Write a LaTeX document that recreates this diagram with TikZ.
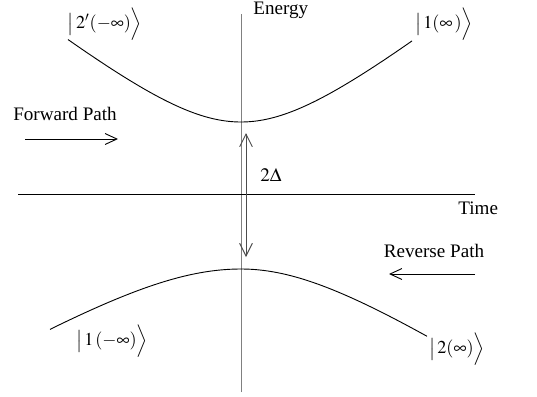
\documentclass[tikz,border=0pt]{standalone}
\usepackage{amsmath,amssymb}
\usepackage{mathptmx}
\usepackage{fontspec}
\setmainfont{Liberation Serif}
\usetikzlibrary{positioning, arrows.meta, calc}

\tikzset{
  axis/.style={line width=0.45pt},
  curve/.style={line width=0.5pt, smooth},
  pathlabel/.style={font=\fontsize{10.5}{12}\selectfont, inner sep=0pt},
  ket/.style={font=\fontsize{10}{12}\selectfont, inner sep=0pt},
  patharrow/.style={-{Straight Barb[length=6.5pt,width=6pt]}, line width=0.5pt}
}

\begin{document}
\begin{tikzpicture}[x=0.55pt, y=-0.55pt]
  \useasboundingbox (0,0) rectangle (537,396);

  % axes
  \coordinate (eb) at (241,392);
  \coordinate (et) at (241,14);
  \coordinate (tl) at (18,194);
  \coordinate (tr) at (475,194);
  \draw[axis, gray] (eb) -- (et);
  \draw[axis] (tl) -- (tr);
  \node[pathlabel, anchor=base west] (energy) at (253,14) {Energy};
  \node[pathlabel, anchor=base west] (time) at (458,214) {Time};

  % adiabatic curves (in units of 10px)
  \draw[curve] plot[domain=68:412, samples=60] (\x, {194-10*sqrt(7.2*7.2+(0.079*(\x-241))^2)});
  \draw[curve] plot[domain=50:241, samples=40] (\x, {194+10*sqrt(7.5*7.5+(0.059*(\x-241))^2)});
  \draw[curve] plot[domain=241:427, samples=40] (\x, {194+10*sqrt(7.5*7.5+(0.065*(\x-241))^2)});

  % gap
  \coordinate (gt) at (246,133);
  \coordinate (gb) at (246,257);
  \draw[{Straight Barb[length=7pt,width=7pt]}-{Straight Barb[length=7pt,width=7pt]}, line width=0.5pt, black!70] (gt) -- (gb);
  \node[pathlabel] (gap) at (271,175) {$2\Delta$};

  % paths
  \node[pathlabel, anchor=base] (fwd) at (65,120) {Forward Path};
  \coordinate (fa) at (25,139);
  \coordinate (fb) at (118,139);
  \draw[patharrow] (fa) -- (fb);
  \node[pathlabel, anchor=base] (rev) at (434,257) {Reverse Path};
  \coordinate (ra) at (475,274);
  \coordinate (rb) at (389,274);
  \draw[patharrow] (ra) -- (rb);

  % states
  \node[ket] (s2m) at (105,24) {$\big|\,2'(-\infty)\Big\rangle$};
  \node[ket] (s1p) at (444,24) {$\big|\,1(\infty\,)\Big\rangle$};
  \node[ket] (s1m) at (112,341) {$\big|\,1\,(-\infty)\Big\rangle$};
  \node[ket] (s2p) at (457,349) {$\big|\,2(\infty)\Big\rangle$};
\end{tikzpicture}
\end{document}
